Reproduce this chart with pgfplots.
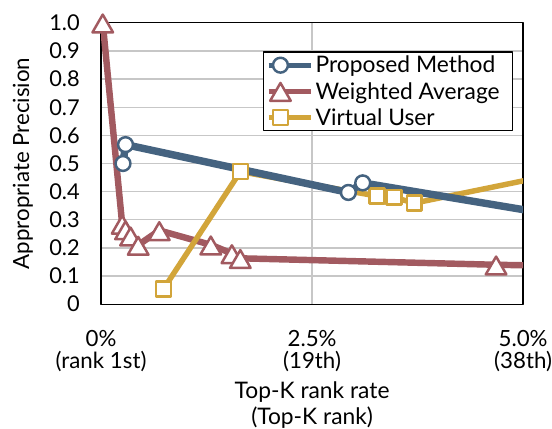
\documentclass[border=0pt]{standalone}
\usepackage{fontspec}
\setmainfont{Lato}
\usepackage{pgfplots}
\pgfplotsset{compat=1.18}
\definecolor{pmblue}{RGB}{69,99,128}
\definecolor{wared}{RGB}{162,90,96}
\definecolor{vugold}{RGB}{210,165,58}
\begin{document}
\begin{tikzpicture}
\begin{axis}[
  scale only axis, width=426pt, height=284pt,
  xmin=0, xmax=5, ymin=0, ymax=1,
  xtick={0,2.5,5},
  xticklabels={{0\%\\(rank 1st)},{2.5\%\\(19th)},{5.0\%\\(38th)}},
  ytick={0,0.1,0.2,0.3,0.4,0.5,0.6,0.7,0.8,0.9,1},
  yticklabels={0,0.1,0.2,0.3,0.4,0.5,0.6,0.7,0.8,0.9,1.0},
  major tick length=0pt,
  xmajorgrids, ymajorgrids,
  grid style={color=black!22, line width=1.3pt},
  axis line style={black, line width=1.3pt},
  xticklabel style={align=center, font=\fontsize{22.5}{22}\selectfont, yshift=-23pt, inner xsep=0pt},
  yticklabel style={font=\fontsize{22}{24}\selectfont, xshift=-18pt},
  xlabel={Top-K rank rate\\(Top-K rank)},
  xlabel style={align=center, font=\fontsize{23}{26}\selectfont, inner sep=0pt, at={(axis description cs:0.5,-0.275)}, anchor=north},
  ylabel={Appropriate Precision},
  ylabel style={font=\fontsize{22.5}{24}\selectfont, at={(axis description cs:-0.185,0.5)}, anchor=center},
  legend style={at={(0.3826,0.898)}, anchor=north west, font=\fontsize{23}{26}\selectfont,
    draw=black, line width=1.2pt, inner ysep=2pt, row sep=4pt},
  legend cell align=left,
  legend image code/.code={\path (-1pt,0pt) -- (42pt,0pt);\draw[mark repeat=2, mark phase=2] plot coordinates {(0pt,0pt) (11pt,0pt) (22pt,0pt)};},
  line join=round,
]
% legend entries
\addlegendimage{pmblue, line width=5pt, mark=*, mark size=7.5pt, mark options={fill=white, draw=pmblue, line width=2.5pt}}
\addlegendentry{Proposed Method\hspace*{8pt}}
\addlegendimage{wared, line width=5pt, mark=triangle*, mark size=12pt, mark options={fill=white, draw=wared, line width=2.5pt, yshift=-3.5pt}}
\addlegendentry{Weighted Average\hspace*{8pt}}
\addlegendimage{vugold, line width=5pt, mark=square*, mark size=7.5pt, mark options={fill=white, draw=vugold, line width=2.5pt}}
\addlegendentry{Virtual User\hspace*{8pt}}

% Weighted Average
\addplot[wared, line width=6.5pt, no marks, forget plot] coordinates {
 (0.02,1.0) (0.25,0.285) (0.29,0.265) (0.35,0.243) (0.44,0.21) (0.69,0.262)
 (1.30,0.211) (1.55,0.18) (1.65,0.163) (4.68,0.140) (5.6,0.135)};
\addplot[only marks, mark=triangle*, mark size=12pt, mark options={fill=white, draw=wared, line width=2.5pt, yshift=-3.7pt}, forget plot] coordinates {
 (0.02,1.0) (0.25,0.285) (0.29,0.265) (0.35,0.243) (0.44,0.21) (0.69,0.262)
 (1.30,0.211) (1.55,0.18) (1.65,0.163) (4.68,0.140)};

% Virtual User
\addplot[vugold, line width=5.5pt, no marks, forget plot] coordinates {
 (0.74,0.054) (1.65,0.471) (3.27,0.384) (3.47,0.380) (3.71,0.359) (5.6,0.475)};
\addplot[only marks, mark=square*, mark size=7.5pt, mark options={fill=white, draw=vugold, line width=2.5pt}, forget plot] coordinates {
 (0.74,0.054) (1.65,0.471) (3.27,0.384) (3.47,0.380) (3.71,0.359)};

% Proposed Method
\addplot[pmblue, line width=7.5pt, no marks, forget plot] coordinates {
 (0.26,0.50) (0.29,0.567) (2.93,0.397) (3.10,0.431) (6.0,0.286)};
\addplot[only marks, mark=*, mark size=7.5pt, mark options={fill=white, draw=pmblue, line width=2.5pt}, forget plot] coordinates {
 (0.26,0.50) (0.29,0.567) (2.93,0.397) (3.10,0.431)};
\end{axis}
\path (current axis.south west) ++(-102pt,-123pt) rectangle ++(552pt,430pt);
\end{tikzpicture}
\end{document}
